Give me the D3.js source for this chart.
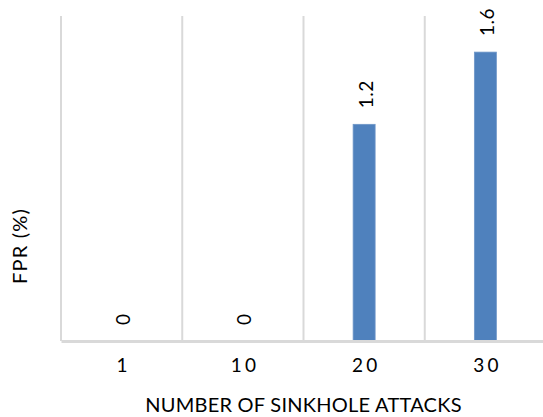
<!DOCTYPE html>
<html>
<head>
<meta charset="utf-8">
<script src="https://cdn.jsdelivr.net/npm/d3@7/dist/d3.min.js"></script>
<style>
  html, body { margin: 0; padding: 0; background: #fff; }
  svg { display: block; }
  text { font-family: Lato, "Open Sans", sans-serif; fill: #000; }
</style>
</head>
<body>
<svg id="chart" width="543" height="417"></svg>
<script>
// Sinkhole attack counts and the false positive rate measured for each
const attacks = ["1", "10", "20", "30"];
const fpr = [0, 0, 1.2, 1.6];
const yDomain = [0, 1.8];

const svg = d3.select("#chart");
const margin = { top: 16, right: -3, bottom: 76, left: 61 };
const W = 543, H = 417;

const x = d3.scaleBand()
  .domain(attacks)
  .range([margin.left, W - margin.right])
  .padding(0);

const y = d3.scaleLinear()
  .domain(yDomain)
  .range([H - margin.bottom, margin.top]);

const barWidth = 22;
const grid = "#d9d9d9";

// vertical separators between categories
const bounds = attacks.map(d => x(d)).concat([x(attacks[attacks.length - 1]) + x.bandwidth()]);
svg.append("g").selectAll("line")
  .data(bounds)
  .join("line")
  .attr("x1", d => d).attr("x2", d => d)
  .attr("y1", y(yDomain[1])).attr("y2", y(0))
  .attr("stroke", grid)
  .attr("stroke-width", 2);

// bars
svg.append("g").selectAll("rect")
  .data(attacks.map((a, i) => ({ a, v: fpr[i] })))
  .join("rect")
  .attr("x", d => x(d.a) + x.bandwidth() / 2 - barWidth / 2)
  .attr("width", barWidth)
  .attr("y", d => y(d.v))
  .attr("height", d => y(0) - y(d.v))
  .attr("fill", "#4f81bd")
  .attr("stroke", "#6f97c8")
  .attr("stroke-width", 0.8);

// value labels, rotated above each bar
svg.append("g").selectAll("text")
  .data(attacks.map((a, i) => ({ a, v: fpr[i] })))
  .join("text")
  .attr("transform", d => `translate(${x(d.a) + x.bandwidth() / 2 + 1},${y(d.v) - 16}) rotate(-90)`)
  .attr("text-anchor", "start")
  .attr("dominant-baseline", "central")
  .attr("font-size", 19)
  .attr("letter-spacing", 0.5)
  .text(d => d3.format("")(d.v));

// category axis
const xAxis = svg.append("g")
  .attr("transform", `translate(0,${y(0)})`)
  .call(d3.axisBottom(x).tickSize(0).tickPadding(18));
xAxis.select(".domain")
  .attr("stroke", grid)
  .attr("stroke-width", 3);
xAxis.selectAll(".tick text")
  .attr("font-size", 19)
  .attr("letter-spacing", 3)
  .attr("font-family", "Lato, sans-serif")
  .attr("dy", "0.71em")
  .attr("dx", 2);

// axis titles
svg.append("text")
  .attr("x", (margin.left + W - margin.right) / 2)
  .attr("y", 412)
  .attr("text-anchor", "middle")
  .attr("font-size", 20)
  .attr("letter-spacing", 0.25)
  .text("NUMBER OF SINKHOLE ATTACKS");

svg.append("text")
  .attr("transform", "translate(27,246) rotate(-90)")
  .attr("text-anchor", "middle")
  .attr("font-size", 20)
  .attr("letter-spacing", 1.2)
  .text("FPR (%)");
</script>
</body>
</html>
